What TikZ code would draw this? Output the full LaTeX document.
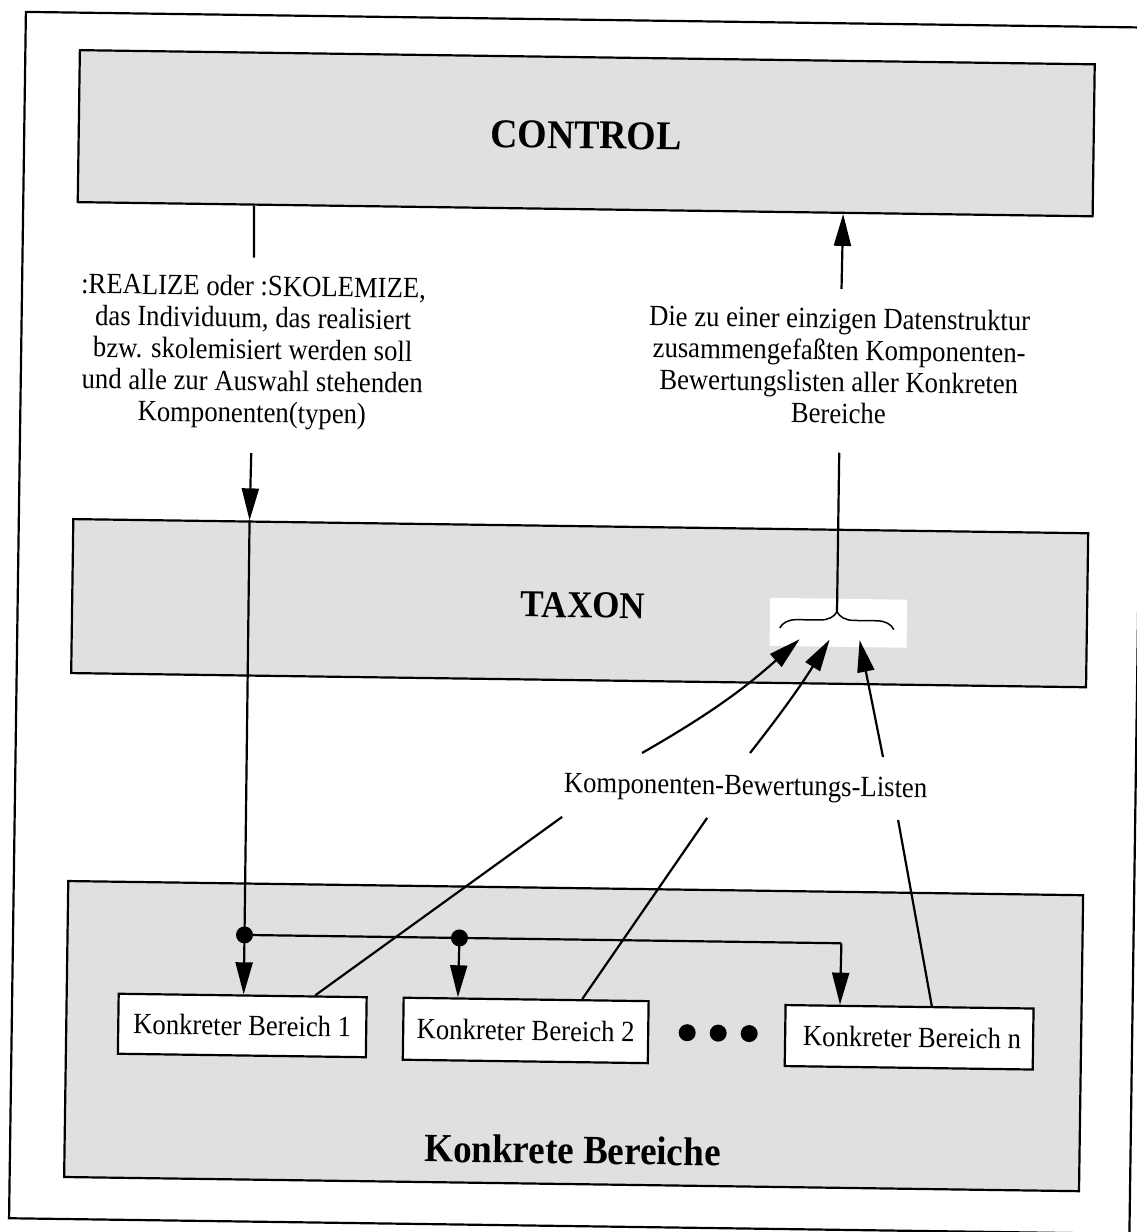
\documentclass[tikz,border=0pt]{standalone}
\usepackage{fontspec}
\setmainfont{Liberation Serif}
\usetikzlibrary{arrows.meta,calc,decorations.pathreplacing}
\newcommand\dgbody{\fontsize{26.7pt}{28.8pt}\selectfont}
\newcommand\dgtitle{\bfseries\fontsize{36pt}{40pt}\selectfont}
\begin{document}
\begin{tikzpicture}[x=1pt,y=-1pt,
  panel/.style={draw, line width=2.2pt, fill=black!12, inner sep=0pt, minimum width=1015pt},
  kbox/.style={draw, line width=2.2pt, fill=white, inner sep=0pt},
  arr/.style={line width=2.2pt, -{Triangle[length=32pt,width=17pt]}},
  conn/.style={line width=2.2pt},
  title/.style={font=\dgtitle, inner sep=0pt, yscale=1.08},
  body/.style={font=\dgbody, align=center, inner sep=0pt, yscale=1.1},
  boxtext/.style={font=\dgbody, inner sep=0pt, yscale=1.1}]
\useasboundingbox (0,0) rectangle (1136,1232);
\fill[white] (0,0) rectangle (1136,1232);
\begin{scope}[rotate around={-0.8:(568,616)}, transform shape]
  % outer frame
  \draw[line width=2.2pt] (17.5,19.5) rectangle (1138,1226);
  % panels
  \node[panel, minimum height=152pt] (control) at (579.5,133) {};
  \node[panel, minimum height=154pt] (taxon) at (579.5,603) {};
  \node[panel, minimum height=296pt] (kb) at (579.5,1036) {};
  \node[title, scale=1.05] (ctitle) at (579.5,135) {CONTROL};
  \node[title, scale=0.975] (ttitle) at (583,605) {TAXON};
  \node[title, scale=1.03] (ktitle) at (580,1150) {Konkrete Bereiche};
  % brace on white patch
  \fill[white] (770,595) rectangle (907,643);
  \coordinate (bl) at (780,625);
  \coordinate (br) at (894,625);
  \draw[line width=1.5pt, decorate, decoration={brace, amplitude=17pt}] (bl) -- (br);
  \coordinate (btip) at (837,608);
  % concrete area boxes
  \node[kbox, minimum width=248pt, minimum height=60pt] (b1) at (248,1030) {};
  \node[kbox, minimum width=245pt, minimum height=62pt] (b2) at (531.5,1031) {};
  \node[kbox, minimum width=248pt, minimum height=61pt] (bn) at (915,1032.5) {};
  \node[boxtext] (b1t) at (b1.center) {Konkreter Bereich 1};
  \node[boxtext] (b2t) at (b2.center) {Konkreter Bereich 2};
  \node[boxtext] (bnt) at ($(bn.center)+(3,0)$) {Konkreter Bereich n};
  \fill (693,1031) circle[radius=8.5];
  \fill (724,1031) circle[radius=8.5];
  \fill (755,1031) circle[radius=8.5];
  % texts
  \node[body] (ltext) at (249,356.5) {:REALIZE oder :SKOLEMIZE,\\das Individuum, das realisiert\\bzw. skolemisiert werden soll\\und alle zur Auswahl stehenden\\Komponenten(typen)};
  \node[body] (rtext) at (835.5,362) {Die zu einer einzigen Datenstruktur\\zusammengefaßten Komponenten-\\Bewertungslisten aller Konkreten\\Bereiche};
  \node[body, anchor=base] (ltag) at (748,792.5) {Komponenten-Bewertungs-Listen};
  % left flow
  \coordinate (c1) at ($(control.south west)!0.1744!(control.south east)$);
  \coordinate (c1e) at (249,262);
  \draw[conn] (c1) -- (c1e);
  \coordinate (a1s) at (249,457.5);
  \coordinate (t1) at ($(taxon.north west)!0.1744!(taxon.north east)$);
  \draw[arr] (a1s) -- (t1);
  \coordinate (j1) at (249,939.5);
  \coordinate (j2) at (464,939.5);
  \coordinate (j3) at (846,939.5);
  \draw[conn] (t1) -- (j1);
  \draw[conn] (j1) -- (j3);
  \fill (j1) circle[radius=8.5];
  \fill (j2) circle[radius=8.5];
  \draw[arr] (j1) -- ($(b1.north west)!0.504!(b1.north east)$);
  \draw[arr] (j2) -- ($(b2.north west)!0.224!(b2.north east)$);
  \draw[arr] (j3) -- ($(bn.north west)!0.222!(bn.north east)$);
  % right flow
  \coordinate (r1) at (837,449);
  \draw[conn] (btip) -- (r1);
  \coordinate (r2) at (837,285);
  \draw[arr] (r2) -- ($(control.south west)!0.7537!(control.south east)$);
  % list arrows
  \coordinate (la) at (644,752);
  \coordinate (lb) at (752,750.5);
  \coordinate (lc) at (885,752.6);
  \coordinate (ta) at (800,636);
  \coordinate (tb) at (830,636);
  \coordinate (tc) at (860,636);
  \draw[arr] (la) to[bend right=6] (ta);
  \draw[arr] (lb) to[bend right=3] (tb);
  \draw[arr] (lc) -- (tc);
  % lines from the list label to the boxes
  \coordinate (m1) at (565,817);
  \coordinate (m2) at (710,816);
  \coordinate (m3) at (901,815.4);
  \draw[conn] (m1) -- ($(b1.north west)!0.79!(b1.north east)$);
  \draw[conn] (m2) -- ($(b2.north west)!0.727!(b2.north east)$);
  \draw[conn] (m3) -- ($(bn.north west)!0.589!(bn.north east)$);
\end{scope}
\end{tikzpicture}
\end{document}
